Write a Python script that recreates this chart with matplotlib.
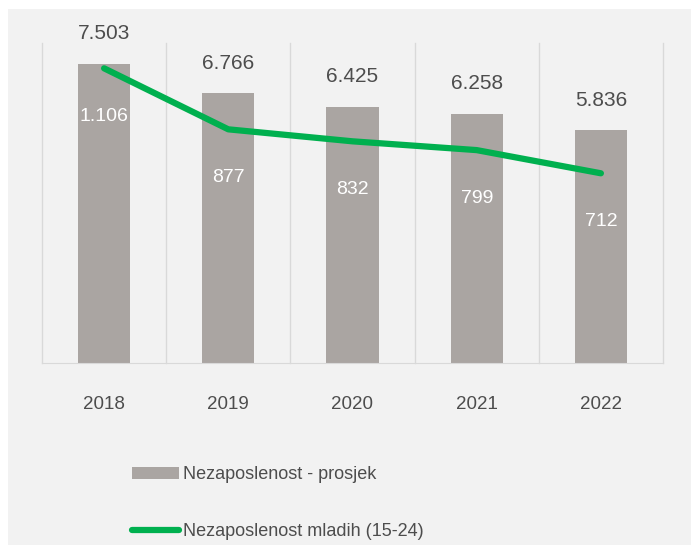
import matplotlib.pyplot as plt
from matplotlib.patches import Rectangle

years = ['2018', '2019', '2020', '2021', '2022']
prosjek = [7503, 6766, 6425, 6258, 5836]
mladi = [1106, 877, 832, 799, 712]

plt.rcParams['font.family'] = ['Liberation Sans', 'DejaVu Sans']

bar_col = '#aaa5a2'
green = '#00b04f'
txt = '#4d4d4d'

fig = plt.figure(figsize=(6.91, 5.45), dpi=100, facecolor='white')
# svijetlo siva podloga
fig.patches.append(Rectangle((8 / 691, 0), 1, 1 - 9 / 545, transform=fig.transFigure,
                             facecolor='#f2f2f2', edgecolor='none', zorder=-5))

ax = fig.add_axes([42 / 691, 1 - 363 / 545, 621 / 691, 320 / 545])
ax.set_facecolor('none')
x = list(range(len(years)))
bars = ax.bar(x, prosjek, width=0.42, color=bar_col, label='Nezaposlenost - prosjek', zorder=2)
ax.set_xlim(-0.5, 4.5)
ax.set_ylim(0, 8030)
for xi in [-0.5, 0.5, 1.5, 2.5, 3.5, 4.5]:
    ax.axvline(xi, color='#d9d9d9', lw=1, zorder=1, clip_on=False)
for s in ['top', 'right', 'left']:
    ax.spines[s].set_visible(False)
ax.spines['bottom'].set_color('#d9d9d9')
ax.set_yticks([])
ax.set_xticks(x)
ax.set_xticklabels(years, fontsize=13.5, color=txt)
ax.tick_params(axis='x', length=0, pad=24)
for xi, v in zip(x, prosjek):
    ax.annotate(f'{v:,}'.replace(',', '.'), (xi, v), xytext=(0, 15), textcoords='offset points',
                ha='center', va='bottom', fontsize=15, color=txt)

ax2 = ax.twinx()
ax2.set_ylim(0, 1201)
ln, = ax2.plot(x, mladi, color=green, lw=4.5, solid_capstyle='round',
               label='Nezaposlenost mladih (15-24)', zorder=3)
ax2.axis('off')
for xi, v in zip(x, mladi):
    ax2.annotate(f'{v:,}'.replace(',', '.'), (xi, v), xytext=(0, -35), textcoords='offset points',
                 ha='center', va='center', fontsize=14, color='white')

fig.legend([bars, ln], ['Nezaposlenost - prosjek', 'Nezaposlenost mladih (15-24)'],
           loc='upper left', bbox_to_anchor=(116 / 691, 1 - 450 / 545), frameon=False,
           fontsize=13, labelcolor=txt, handlelength=2.6, handletextpad=0.2, labelspacing=2.2)

fig.savefig('out.png', dpi=100, facecolor=fig.get_facecolor())
